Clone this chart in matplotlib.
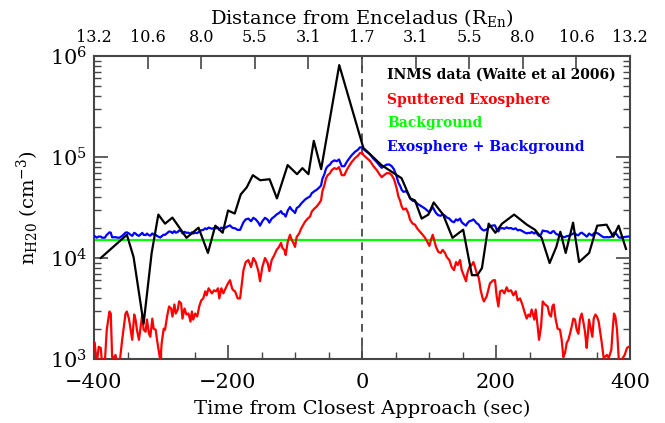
import numpy as np
import matplotlib
matplotlib.use("Agg")
import matplotlib.pyplot as plt
from matplotlib.ticker import MultipleLocator, LogLocator, FixedLocator, NullLocator

# INMS data (Waite et al 2006), time in sec, log10 of density
inms_t = [-390, -351, -341, -326, -314, -304, -294, -283, -262, -244, -230, -219,
          -208, -200, -190, -181, -172, -163, -152, -138, -127, -111, -97, -89,
          -80, -72, -61, -34, 2, 29, 59, 72, 79, 89, 99, 107, 121, 135, 151, 164,
          172, 179, 189, 199, 209, 227, 246, 258, 268, 280, 290, 296, 304, 315,
          324, 339, 351, 365, 375, 383, 394]
inms_log = [4.00, 4.23, 4.01, 3.35, 4.05, 4.43, 4.34, 4.40, 4.20, 4.30, 4.05, 4.32,
            4.25, 4.47, 4.44, 4.63, 4.70, 4.82, 4.77, 4.78, 4.59, 4.92, 4.83, 4.89,
            4.83, 5.16, 4.88, 5.91, 5.09, 4.92, 4.79, 4.59, 4.57, 4.39, 4.43, 4.55,
            4.43, 4.20, 4.28, 3.83, 3.83, 3.90, 4.34, 4.25, 4.34, 4.43, 4.33, 4.28,
            4.20, 3.95, 4.11, 4.26, 4.05, 4.35, 3.96, 4.05, 4.32, 4.33, 4.21, 4.32,
            4.09]

# sputtered exosphere model, time in sec, log10 of density
sput_t = [-399, -396, -393, -390, -388, -384, -381, -377, -375, -373, -371, -368,
          -365, -362, -358, -353, -351, -348, -346, -343, -340, -338, -336, -333,
          -328, -326, -323, -321, -318, -316, -313, -311, -308, -306, -303, -301,
          -299, -296, -294, -291, -288, -285, -283, -280, -278, -275, -273, -270,
          -268, -265, -262, -259, -256, -254, -252, -249, -246, -243, -240, -237,
          -234, -232, -229, -226, -224, -221, -218, -215, -213, -210, -207, -205,
          -200, -197, -194, -192, -189.5, -185.6, -182, -177, -173.6, -169.7,
          -165.7, -162.2, -158.7, -154.7, -152.2, -148.8, -144.8, -140.8, -138.3,
          -134.8, -130.8, -127.4, -123.9, -120.9, -118.9, -115.9, -113.9, -110.9,
          -107.5, -105, -102.5, -100, -97.5, -94, -91, -87.6, -85, -81, -77.6, -75,
          -71, -67.7, -64.2, -61.2, -59.2, -56.2, -53.7, -51.2, -47.8, -45.3,
          -41.3, -37.8, -34.3, -30.3, -26.4, -22.9, -19.4, -15.4, -10.4, -6.5, -3,
          0.5, 2, 7, 12, 17, 22, 26, 29.4, 32.8, 36.8, 40.8, 44.3, 47.8, 51.7,
          54.2, 56.7, 59.2, 61.7, 65.7, 69.2, 71.6, 75.6, 79.1, 82.6, 86.6, 90.5,
          94, 97.5, 100.5, 103, 105.5, 107.5, 110.4, 113.9, 117.4, 120.4, 123.9,
          126.4, 130.3, 133.8, 137.3, 140.3, 142.8, 146.3, 148.8, 152.2, 155.2,
          157.2, 160.2, 163.7, 166.2, 168.7, 171.1, 173.6, 175.1, 177.1, 180.1,
          182, 186, 191, 196, 198.5, 201, 203.5, 206, 209.5, 212.4, 215.9, 218.4,
          222.4, 225.9, 229.4, 232.3, 235.8, 239.3, 242.3, 245.8, 248.3, 250.7,
          253.2, 257.2, 259.2, 262.2, 264.2, 267.2, 269.7, 273.1, 277.1, 279.6,
          282.1, 284.1, 286.1, 289.1, 292, 295.5, 298, 300.5, 303, 305.5, 308,
          310.4, 312.9, 315.4, 317.9, 320.4, 322.9, 325.4, 327.9, 330.3, 332.8,
          335.3, 336.8, 338.8, 341.8, 343.8, 345.8, 348.3, 350.7, 353.2, 357.2,
          360.7, 365.7, 368.2, 372.1, 374.1, 376.1, 378.1, 380.6, 383.1, 385.6,
          389.1, 392, 395.5, 398]
sput_log = [3.16, 2.95, 3.12, 3.11, 2.95, 2.95, 3.29, 3.47, 3.45, 3.02, 3.01, 3.04,
            2.95, 2.95, 3.19, 3.45, 3.47, 3.40, 3.32, 3.19, 3.44, 3.39, 3.29, 3.19,
            3.44, 3.29, 3.27, 3.39, 3.25, 3.22, 3.40, 3.30, 3.29, 3.19, 3.06, 2.98,
            3.16, 3.30, 3.29, 3.42, 3.52, 3.50, 3.42, 3.54, 3.45, 3.49, 3.57, 3.55,
            3.40, 3.50, 3.44, 3.45, 3.37, 3.47, 3.39, 3.45, 3.42, 3.52, 3.58, 3.60,
            3.67, 3.63, 3.70, 3.67, 3.65, 3.68, 3.67, 3.70, 3.60, 3.70, 3.65, 3.68,
            3.75, 3.78, 3.70, 3.68, 3.67, 3.60, 3.60, 3.88, 3.96, 3.98,
            3.91, 4.00, 3.96, 3.87, 3.77, 3.91, 4.00, 3.95, 3.87,
            3.98, 4.03, 4.08, 4.11, 4.15, 4.10, 4.08, 4.03, 4.16,
            4.23, 4.18, 4.15, 4.11, 4.21, 4.24, 4.29, 4.33, 4.36, 4.39, 4.41, 4.46,
            4.49, 4.51, 4.54, 4.57, 4.66, 4.72, 4.79, 4.82, 4.84, 4.87,
            4.89, 4.88, 4.90, 4.82, 4.82, 4.87, 4.91, 4.95, 4.99, 5.01, 5.04,
            5.04, 5.02, 4.99, 4.96, 4.91, 4.87, 4.83, 4.80, 4.82, 4.84, 4.84, 4.82, 4.78, 4.69,
            4.61, 4.57, 4.51, 4.48, 4.49, 4.44, 4.38, 4.34, 4.33, 4.29, 4.26, 4.23,
            4.20, 4.16, 4.12, 4.18, 4.23, 4.18, 4.11, 4.06, 4.05, 4.08, 4.05,
            4.01, 3.98, 3.91, 3.88, 3.96, 3.93, 3.98, 3.88, 3.82, 3.77,
            3.85, 3.91, 3.93, 3.96, 3.91, 3.85, 3.82, 3.77, 3.68, 3.60,
            3.57, 3.62, 3.75, 3.78, 3.78, 3.62, 3.52, 3.67, 3.68, 3.65, 3.71, 3.67,
            3.68, 3.63, 3.67, 3.58, 3.60, 3.54, 3.47, 3.40, 3.44, 3.42,
            3.49, 3.39, 3.49, 3.32, 3.19, 3.32, 3.57, 3.54, 3.52, 3.44,
            3.42, 3.52, 3.54, 3.39, 3.30, 3.29, 3.19, 3.02, 3.06, 3.16, 3.19,
            3.25, 3.32, 3.40, 3.39, 3.29, 3.25, 3.40, 3.45, 3.37, 3.27,
            3.11, 3.22, 3.39, 3.29, 3.22, 3.40, 3.44, 3.42, 3.37, 3.19,
            3.01, 3.04, 3.01, 3.09, 3.29, 3.45, 3.42, 3.29, 3.01, 2.95,
            3.01, 3.04, 3.11, 3.12]

background = 1.5e4

sputtered = 10 ** np.array(sput_log)
combined = sputtered + background
inms = 10 ** np.array(inms_log)

top_ticks = [-400, -320, -240, -160, -80, 0, 80, 160, 240, 320, 400]
top_labels = ['13.2', '10.6', '8.0', '5.5', '3.1', '1.7', '3.1', '5.5', '8.0', '10.6', '13.2']

plt.rcParams['font.family'] = 'DejaVu Serif'
plt.rcParams['mathtext.fontset'] = 'dejavuserif'

fig = plt.figure(figsize=(6.65, 4.23), dpi=100)
ax = fig.add_axes([0.1414, 0.1513, 0.806, 0.7163])

axcol = '#454545'
ax.plot([-400, 400], [background, background], color='#00ff00', lw=1.6, zorder=2)
ax.plot(sput_t, sputtered, color='#ff0000', lw=1.6, zorder=3)
ax.plot(sput_t, combined, color='#0000ff', lw=1.6, zorder=4)
ax.plot(inms_t, inms, color='black', lw=1.6, zorder=5)
ax.axvline(0, color='#555555', lw=1.4, ls=(0, (4, 3)), zorder=1)

ax.set_yscale('log')
ax.set_xlim(-400, 400)
ax.set_ylim(1e3, 1e6)

ax.xaxis.set_major_locator(MultipleLocator(200))
ax.xaxis.set_minor_locator(MultipleLocator(50))
ax.yaxis.set_major_locator(LogLocator(base=10))
ax.yaxis.set_minor_locator(LogLocator(base=10, subs=np.arange(2, 10)))
ax.tick_params(which='both', direction='in', right=True, top=False, colors='black')
ax.tick_params(which='major', length=10, width=1.2, color=axcol, labelsize=15)
ax.tick_params(axis='x', which='major', pad=10)
ax.tick_params(axis='y', which='major', pad=5)
ax.tick_params(which='minor', length=5, width=1.0, color=axcol)
for s in ax.spines.values():
    s.set_color(axcol)
    s.set_linewidth(1.5)

ax.set_xlabel('Time from Closest Approach (sec)', fontsize=14, labelpad=6)
ax.set_ylabel(r'n$_{\rm H20}$ (cm$^{-3}$)', fontsize=14, labelpad=6)

top = ax.twiny()
top.set_xlim(-400, 400)
top.xaxis.set_major_locator(FixedLocator(top_ticks))
top.xaxis.set_minor_locator(NullLocator())
top.set_xticklabels(top_labels)
top.tick_params(direction='in', length=9, width=1.2, color=axcol, labelsize=11.5, pad=7)
for s in top.spines.values():
    s.set_visible(False)
top.set_xlabel(r'Distance from Enceladus (R$_{\rm En}$)', fontsize=14, labelpad=4)

leg_x = 0.547
ax.text(leg_x, 0.937, 'INMS data (Waite et al 2006)', transform=ax.transAxes,
        color='black', fontsize=10, fontweight='bold', va='center')
ax.text(leg_x, 0.855, 'Sputtered Exosphere', transform=ax.transAxes,
        color='#ff0000', fontsize=10, fontweight='bold', va='center')
ax.text(leg_x, 0.779, 'Background', transform=ax.transAxes,
        color='#00ff00', fontsize=10, fontweight='bold', va='center')
ax.text(leg_x, 0.700, 'Exosphere + Background', transform=ax.transAxes,
        color='#0000ff', fontsize=10, fontweight='bold', va='center')

fig.savefig('out.png', dpi=100)
